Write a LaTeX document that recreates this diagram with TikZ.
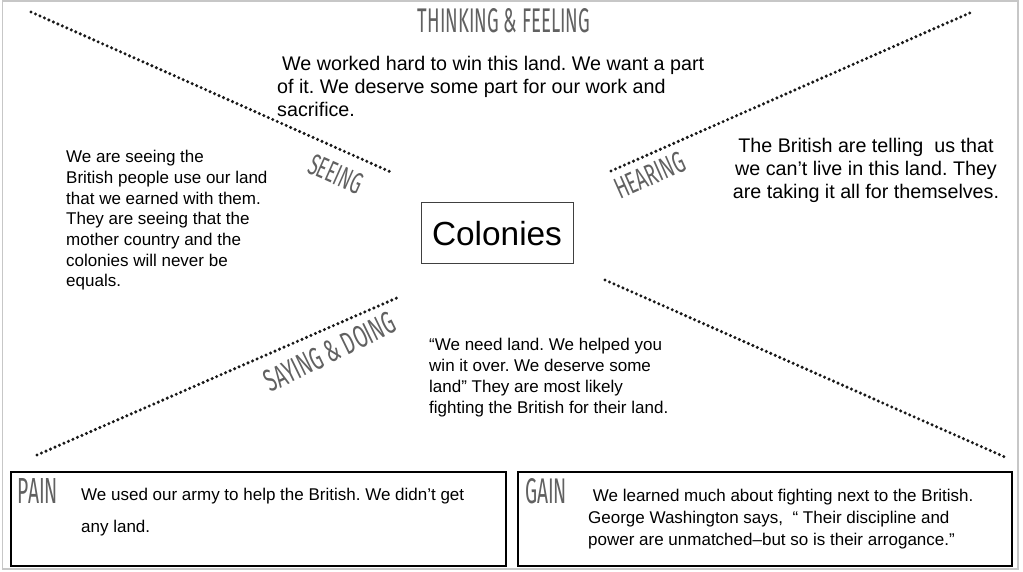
\documentclass[tikz,border=0pt]{standalone}
\usepackage{fontspec}
\usepackage{graphicx}
\setmainfont{Liberation Sans}
\newfontfamily\handfont{Fira Sans}
\frenchspacing
\begin{document}
\begin{tikzpicture}[x=1pt,y=-1pt,
  frame/.style={draw=black!22, line width=1.5pt},
  dotline/.style={draw=black!90, line width=3.4pt, dash pattern=on 0pt off 4.9pt, line cap=round},
  hand/.style={inner sep=0pt, text=black!62, font=\handfont},
  body/.style={inner sep=0pt, align=left, anchor=base west},
  bigtext/.style={font=\fontsize{19.7}{23}\selectfont},
  smalltext/.style={font=\fontsize{17}{20.7}\selectfont},
  panel/.style={draw=black, line width=1.8pt, inner sep=0pt, anchor=north west}
]
\useasboundingbox (0,0) rectangle (1023,572);
\fill[white] (0,0) rectangle (1023,572);
\draw[frame] (2.5,1) rectangle (1018,569);

% dotted diagonals
\coordinate (tl1) at (31,12);   \coordinate (tl2) at (393,173);
\coordinate (tr1) at (611,171); \coordinate (tr2) at (972,12);
\coordinate (bl1) at (37,455);  \coordinate (bl2) at (399,297);
\coordinate (br1) at (605,280); \coordinate (br2) at (1007,458);
\draw[dotline] (tl1) -- (tl2);
\draw[dotline] (tr1) -- (tr2);
\draw[dotline] (bl1) -- (bl2);
\draw[dotline] (br1) -- (br2);

% centre
\node[draw=black!75, line width=1pt, minimum width=152pt, minimum height=61pt, inner sep=0pt,
      font=\fontsize{33.4}{36}\selectfont] (colonies) at (497,233.5) {Colonies};

% handwritten labels
\node[hand] (thinklab) at (504,21) {\resizebox{172pt}{24pt}{THINKING \& FEELING}};
\node[hand, rotate=-24] (seelab) at (336,174) {\resizebox{56pt}{21pt}{SEEING}};
\node[hand, rotate=24] (hearlab) at (650,175) {\resizebox{74pt}{21pt}{HEARING}};
\node[hand, rotate=26] (saylab) at (330,352) {\resizebox{142pt}{22pt}{SAYING \& DOING}};

% texts (base anchor = baseline of the last line)
\node[body, bigtext] (thinktext) at (277,117)
  {\hspace*{5pt}We worked hard to win this land. We want a part\\of it. We deserve some part for our work and\\sacrifice.};
\node[body, smalltext] (seetext) at (66,287)
  {We are seeing the\\British people use our land\\that we earned with them.\\They are seeing that the\\mother country and the\\colonies will never be\\equals.};
\node[inner sep=0pt, align=center, anchor=base, bigtext] (heartext) at (866,199)
  {The British are telling\ \ us that\\we can’t live in this land. They\\are taking it all for themselves.};
\node[body, smalltext] (saytext) at (429,413)
  {“We need land. We helped you\\win it over. We deserve some\\land” They are most likely\\fighting the British for their land.};

% bottom panels
\node[panel, minimum width=495pt, minimum height=94pt] (pain) at (10,471) {};
\node[panel, minimum width=494pt, minimum height=94pt] (gain) at (517,471) {};
\node[hand] (painlab) at (38,491) {\resizebox{40pt}{25pt}{PAIN}};
\node[hand] (gainlab) at (546,491) {\resizebox{42pt}{25pt}{GAIN}};
\node[body, font=\fontsize{17}{32}\selectfont] (paintext) at (81,532)
  {We used our army to help the British. We didn’t get\\any land.};
\node[body, font=\fontsize{17}{22}\selectfont] (gaintext) at (588,545)
  {\hspace*{4.7pt}We learned much about fighting next to the British.\\George Washington says,\ \ “ Their discipline and\\power are unmatched–but so is their arrogance.”};
\end{tikzpicture}
\end{document}
